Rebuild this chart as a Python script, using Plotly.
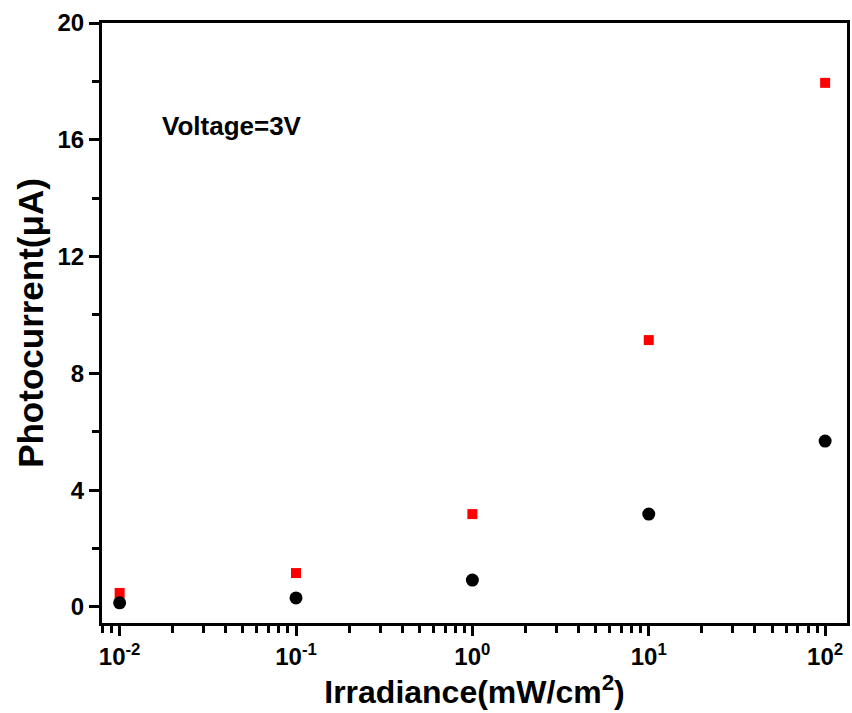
import plotly.graph_objects as go

irradiance = [0.01, 0.1, 1, 10, 100]
red_current = [0.48, 1.16, 3.18, 9.14, 17.95]
black_current = [0.14, 0.31, 0.92, 3.18, 5.68]
x_tickvals = [0.01, 0.1, 1, 10, 100]
x_ticktext = ["10<sup>-2</sup>", "10<sup>-1</sup>", "10<sup>0</sup>", "10<sup>1</sup>", "10<sup>2</sup>"]
y_tickvals = [0, 4, 8, 12, 16, 20]

font_family = "Liberation Sans, Arial, sans-serif"

fig = go.Figure()
fig.add_trace(go.Scatter(x=irradiance, y=red_current, mode="markers",
                         marker=dict(symbol="square", size=10, color="#ff0000"),
                         showlegend=False))
fig.add_trace(go.Scatter(x=irradiance, y=black_current, mode="markers",
                         marker=dict(symbol="circle", size=13, color="#000000"),
                         showlegend=False))

fig.update_layout(
    width=852, height=713,
    margin=dict(l=102, r=2, t=23, b=90),
    paper_bgcolor="white", plot_bgcolor="white",
    font=dict(family=font_family, color="black"),
    annotations=[dict(x=0.078, y=0.828, xref="paper", yref="paper",
                      text="Voltage=3V", showarrow=False, xanchor="left",
                      yanchor="middle",
                      font=dict(size=26, family=font_family, weight="bold"))],
)
fig.update_xaxes(
    type="log", range=[-2.1, 2.124],
    tickvals=x_tickvals, ticktext=x_ticktext,
    ticks="outside", ticklen=10, tickwidth=3, tickcolor="black",
    minor=dict(ticks="outside", ticklen=7, tickwidth=3, tickcolor="black", dtick="D1"),
    showline=True, linewidth=3, linecolor="black", mirror=True,
    showgrid=False, zeroline=False,
    tickfont=dict(size=24, family=font_family, weight="bold"),
    title=dict(text="Irradiance(mW/cm<sup>2</sup>)", standoff=4,
               font=dict(size=32, family=font_family, weight="bold")),
)
fig.update_yaxes(
    range=[-0.55, 20],
    tickvals=y_tickvals,
    ticks="outside", ticklen=10, tickwidth=3, tickcolor="black",
    minor=dict(ticks="outside", ticklen=7, tickwidth=3, tickcolor="black", dtick=2),
    showline=True, linewidth=3, linecolor="black", mirror=True,
    showgrid=False, zeroline=False,
    tickfont=dict(size=24, family=font_family, weight="bold"),
    title=dict(text="Photocurrent(μA)", standoff=4,
               font=dict(size=35, family=font_family, weight="bold")),
)

fig.write_html("out.html")
